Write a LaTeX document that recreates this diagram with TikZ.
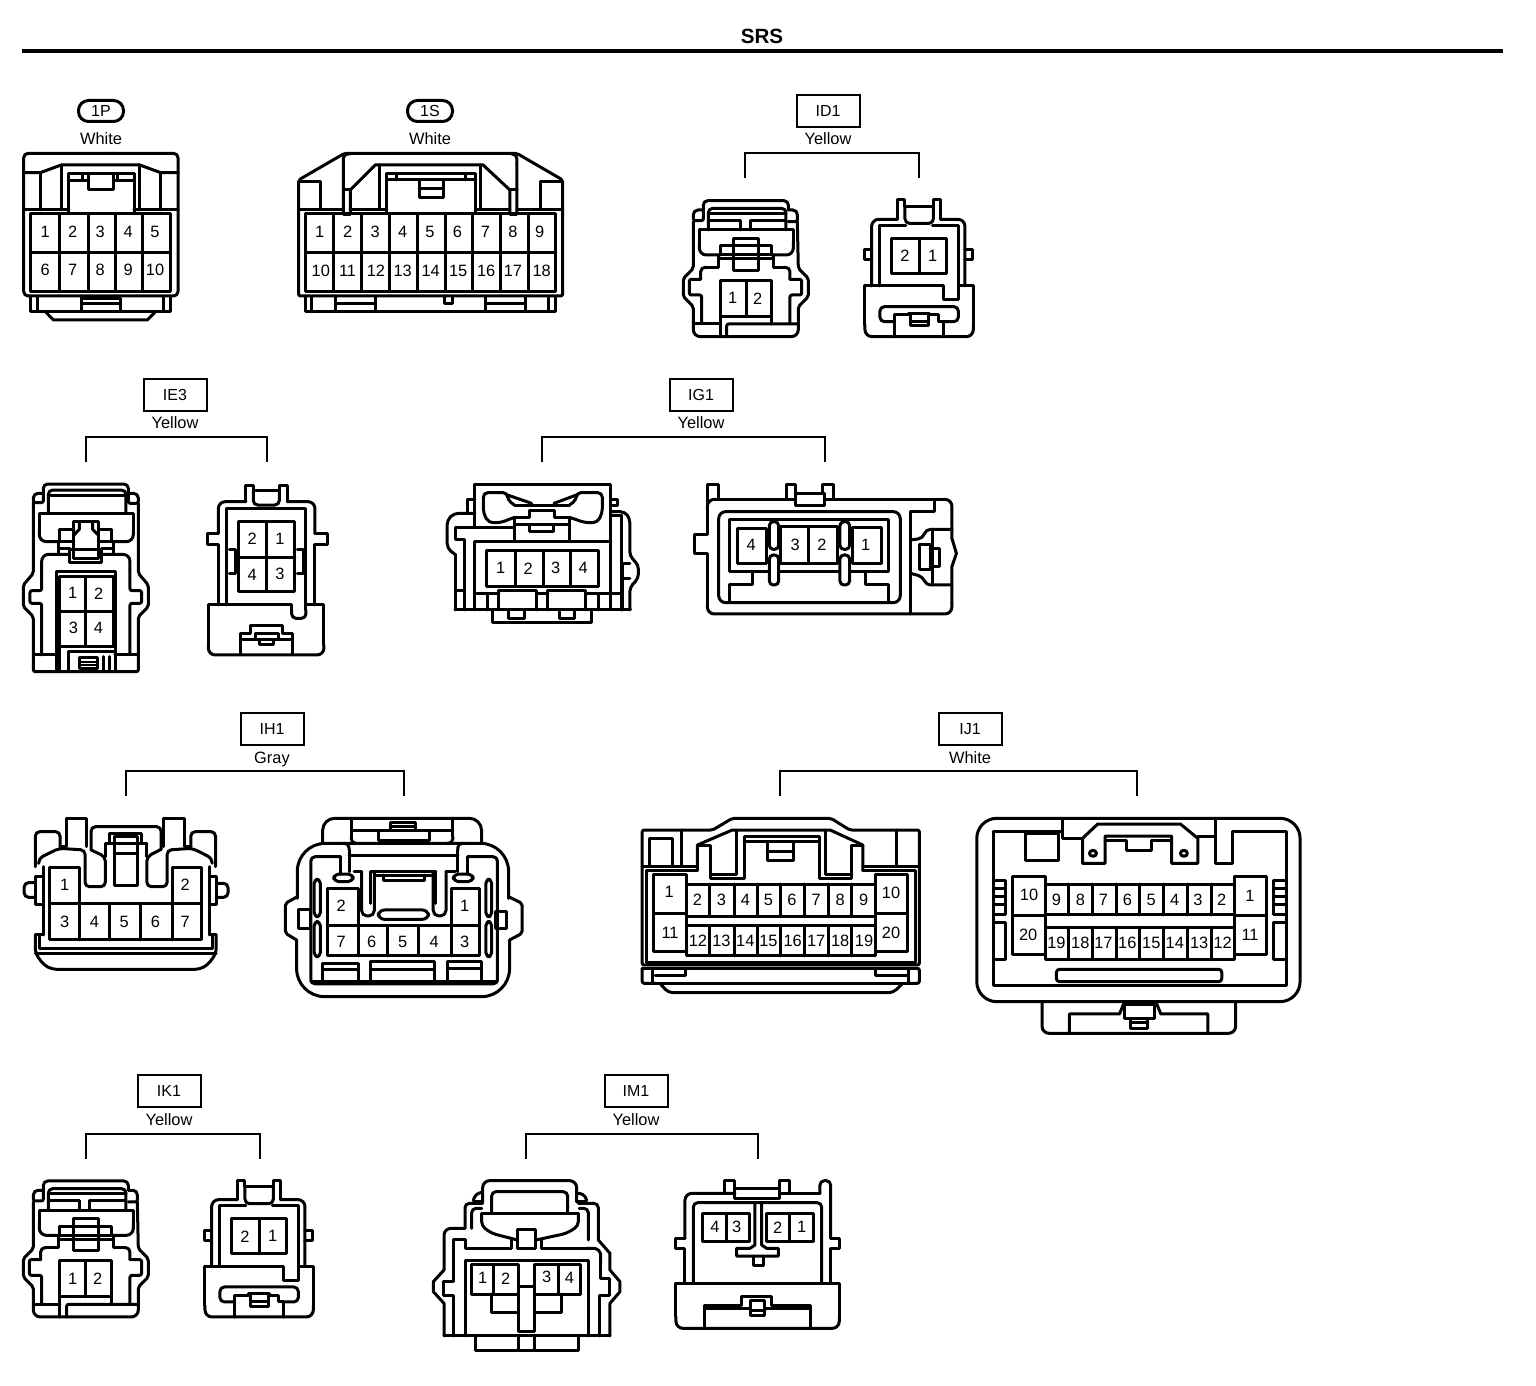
\documentclass[tikz,border=0pt]{standalone}
\usepackage{fontspec}
\setmainfont{Liberation Sans}
\newcount\pinctr
\newcommand\pn[3]{\global\advance\pinctr by 1 \node[pinlab] (pin\the\pinctr) at (#1,#2) {#3};}
\tikzset{
  wire/.style={line width=1.5pt,line join=round,line cap=round},
  rc/.style={rounded corners=3.5pt},
  rs/.style={rounded corners=2.2pt},
  rt/.style={rounded corners=1pt},
  pinlab/.style={inner sep=0pt,font=\fontsize{8.2}{9}\selectfont},
  colr/.style={inner sep=0pt,text height=6pt,text depth=0pt,font=\fontsize{8.2}{9}\selectfont},
  idbox/.style={draw,line width=1pt,minimum width=31.5pt,minimum height=16pt,inner sep=0pt,font=\fontsize{8}{9}\selectfont},
  idpill/.style={draw,line width=1.5pt,rounded corners=5pt,minimum width=22.5pt,minimum height=10.5pt,inner sep=0pt,font=\fontsize{8}{9}\selectfont},
  brk/.style={line width=1.2pt},
  zm/.style args={#1/#2/#3/#4}{shift={(#1,#2)},xscale=#3,yscale=#4,wire}
}
\newcommand\partA{%
\draw[rs] (130,90)--(130,62)--(385,62)--(385,90);
\draw[rt] (130,90)--(108,90)--(100,98)--(100,122)--(130,122)--(130,90);
\draw[rt] (385,90)--(405,90)--(412,98)--(412,125)--(385,125);
\draw[rt] (100,125)--(100,265)--(70,295)--(70,350)--(100,380)--(100,440);
\draw[rc] (100,440)--(100,470)--(415,470)--(415,440);
\draw[rt] (415,440)--(415,380)--(445,350)--(445,295)--(415,265)--(412,125);
\draw[rs] (145,150)--(145,85)--(378,85)--(378,150);
\draw (145,100)--(378,100);
\draw (145,122)--(240,122)--(240,150) (270,150)--(270,122)--(378,122);
\draw (118,185)--(118,150)--(400,150)--(400,185);
\draw[rc] (180,225)--(118,225)--(118,185);
\draw[rc] (335,225)--(400,225)--(400,185);
\draw (220,175) rectangle (295,272);
\draw (180,225)--(180,198)--(335,198)--(335,225)--(180,225);
\draw (175,237)--(340,237);
\draw (175,225)--(175,262)--(140,262);
\draw[rs] (140,262)--(122,262)--(122,298);
\draw[rt] (122,298)--(88,298)--(88,345)--(125,345)--(125,432);
\draw (340,225)--(340,262)--(372,262);
\draw[rs] (372,262)--(390,262)--(390,298);
\draw[rt] (390,298)--(425,298)--(425,345)--(390,345)--(390,432);
\draw (180,302) rectangle (335,410);
\draw (258,302)--(258,410);
\draw (180,410)--(180,470) (104,432)--(180,432) (335,410)--(335,432);
\draw[rt] (200,470)--(200,432)--(413,432);
\pn{218}{355}{1}\pn{293}{355}{2}}
\newcommand\partB{%
\draw (712,118)--(712,60)--(735,60)--(735,80)--(820,80)--(820,60)--(842,60)--(842,118);
\draw[rs] (735,80)--(735,130)--(820,130)--(820,80);
\draw[rc] (635,318)--(635,118)--(712,118) (842,118)--(915,118)--(915,318);
\draw (658,318)--(658,137)--(738,137) (817,137)--(895,137)--(895,360)--(850,360)--(850,318)--(615,318)--(615,435);
\draw[rc] (615,435)--(615,470)--(940,470)--(940,435);
\draw (940,435)--(940,318)--(895,318);
\draw (635,210)--(615,210)--(615,240)--(635,240) (915,210)--(938,210)--(938,240)--(915,240);
\draw (695,175) rectangle (860,280);
\draw (778,175)--(778,280);
\draw[rs] (703,425)--(660,425)--(660,380)--(895,380)--(895,425)--(850,425);
\draw (703,470)--(703,405)--(745,405)--(745,400)--(810,400)--(810,405)--(835,405)--(835,425)--(850,425)--(850,470);
\draw (752,405)--(752,438)--(805,438)--(805,405) (752,425)--(805,425);
\pn{735}{228}{2}\pn{818}{228}{1}}
\begin{document}
\begin{tikzpicture}[x=0.5pt,y=-0.5pt]
\useasboundingbox (0,0) rectangle (1536,1386);
\fill[white] (0,0) rectangle (1536,1386);
% title
\node[inner sep=0pt,font=\bfseries\fontsize{10.3}{12}\selectfont] (title) at (762,36) {SRS};
\draw[line width=2pt] (22,51)--(1503,51);
% identifiers
\node[idpill] (id1p) at (101,111) {1P};
\node[colr] (c1p) at (101,139) {White};
\node[idpill] (id1s) at (430,111) {1S};
\node[colr] (c1s) at (430,139) {White};
\node[idbox] (idd1) at (828,111) {ID1};
\node[colr] (cd1) at (828,139) {Yellow};
\node[idbox] (ide3) at (175,395) {IE3};
\node[colr] (ce3) at (175,422) {Yellow};
\node[idbox] (idg1) at (701,395) {IG1};
\node[colr] (cg1) at (701,422) {Yellow};
\node[idbox] (idh1) at (272,729) {IH1};
\node[colr] (ch1) at (272,757) {Gray};
\node[idbox] (idj1) at (970,729) {IJ1};
\node[colr] (cj1) at (970,757) {White};
\node[idbox] (idk1) at (169,1091) {IK1};
\node[colr] (ck1) at (169,1119) {Yellow};
\node[idbox] (idm1) at (636,1091) {IM1};
\node[colr] (cm1) at (636,1119) {Yellow};
% brackets
\draw[brk] (745,178)--(745,153)--(919,153)--(919,178);
\draw[brk] (86,462)--(86,437)--(267,437)--(267,462);
\draw[brk] (542,462)--(542,437)--(825,437)--(825,462);
\draw[brk] (126,796)--(126,771)--(404,771)--(404,796);
\draw[brk] (780,796)--(780,771)--(1137,771)--(1137,796);
\draw[brk] (86,1159)--(86,1134)--(260,1134)--(260,1159);
\draw[brk] (526,1159)--(526,1134)--(758,1134)--(758,1159);
% ---------- 1P, 1S
\begin{scope}[zm={0/80/0.3828/0.3333}]
\draw[rs] (62,648)--(62,220)--(465,220)--(465,648)--cycle;
\draw (62,278)--(105,278)--(160,255)--(365,255)--(420,278)--(465,278);
\draw (105,278)--(105,390) (160,255)--(160,390) (365,255)--(365,390) (420,278)--(420,390);
\draw (62,390)--(180,390) (350,390)--(465,390);
\draw (178,398)--(178,280)--(352,280)--(352,398);
\draw (178,302)--(232,302) (296,302)--(352,302) (215,282)--(215,302) (308,282)--(308,302);
\draw (232,282)--(232,328)--(296,328)--(296,282);
\draw (80,400) rectangle (445,635);
\foreach \x in {155,230,302,372} \draw (\x,400)--(\x,635);
\draw (80,518)--(445,518);
\foreach \x/\t in {118/1,190/2,262/3,335/4,405/5} {\pn{\x}{455}{\t}}
\foreach \x/\t in {118/6,190/7,262/8,335/9,405/10} {\pn{\x}{570}{\t}}
\draw (80,650)--(80,695)--(445,695)--(445,650) (98,650)--(98,695) (428,650)--(428,695);
\draw (213,650)--(213,695) (315,655)--(315,695) (213,672)--(315,672) (213,655)--(315,655);
\draw (120,697)--(140,720)--(385,720)--(405,697);
% 1S
\draw[rt] (780,648)--(780,300)--(900,220)--(1350,220)--(1470,300)--(1470,648)--cycle;
\draw (780,305)--(838,305)--(838,388) (1470,305)--(1412,305)--(1412,388);
\draw (780,388)--(897,388) (1470,388)--(1350,388);
\draw[rs] (915,222)--(897,222)--(897,250);
\draw[rs] (1335,222)--(1350,222)--(1350,250);
\draw (897,250)--(897,403)--(915,403)--(915,330)--(980,255)--(1262,255)--(1332,330)--(1332,403)--(1350,403)--(1350,250);
\draw (897,330)--(915,330) (1332,330)--(1350,330);
\draw (992,255)--(992,388) (1255,255)--(1255,388);
\draw (915,388)--(1010,388) (1243,388)--(1332,388);
\draw (1010,400)--(1010,280)--(1243,280)--(1243,400);
\draw (1010,300)--(1243,300) (1035,280)--(1035,300) (1215,280)--(1215,300);
\draw (1095,305)--(1095,352)--(1158,352)--(1158,305) (1095,325)--(1158,325);
\draw (798,400) rectangle (1452,635);
\foreach \x in {872,945,1018,1090,1163,1235,1308,1380} \draw (\x,400)--(\x,635);
\draw (798,518)--(1452,518);
\foreach \x/\t in {835/1,908/2,980/3,1052/4,1123/5,1195/6,1268/7,1340/8,1410/9} {\pn{\x}{455}{\t}}
\foreach \x/\t in {838/10,908/11,982/12,1052/13,1125/14,1197/15,1270/16,1340/17,1415/18} {\pn{\x}{572}{\t}}
\draw (798,650)--(798,695)--(1452,695)--(1452,650) (815,650)--(815,695) (1433,650)--(1433,695);
\draw (877,650)--(877,695) (980,650)--(980,695) (877,672)--(980,672);
\draw (1268,650)--(1268,695) (1372,650)--(1372,695) (1268,672)--(1372,672);
\draw (1160,650)--(1160,672)--(1182,672)--(1182,650);
\end{scope}
% ---------- ID1
\begin{scope}[zm={660/180/0.3333/0.3333}]
\partA \partB
\end{scope}
% ---------- IK1
\begin{scope}[zm={0/1160.3/0.3333/0.3333}]
\partA \partB
\end{scope}
% ---------- IE3
\begin{scope}[zm={0/470/0.3333/0.3333}]
\draw[rs] (130,70)--(130,42)--(385,42)--(385,70);
\draw[rt] (130,70)--(108,70)--(100,78)--(100,98)--(130,98)--(130,70);
\draw[rt] (385,70)--(407,70)--(415,78)--(415,100)--(385,100)--(385,70);
\draw[rs] (145,128)--(145,60)--(378,60)--(378,128);
\draw (145,75)--(378,75);
\draw (118,180)--(118,130)--(400,130)--(400,180);
\draw[rc] (180,215)--(118,215)--(118,180);
\draw[rc] (335,215)--(400,215)--(400,180);
\draw[rt] (100,98)--(100,310)--(70,345)--(70,410)--(100,440)--(100,605)--(415,605)--(415,440)--(445,410)--(445,345)--(415,310)--(415,100);
\draw (222,205)--(222,155)--(295,155)--(295,205);
\draw (180,178)--(222,178) (295,178)--(335,178) (180,178)--(180,215)--(222,215) (335,178)--(335,215)--(295,215);
\draw (238,155)--(238,178)--(222,195) (278,155)--(278,178)--(295,195);
\draw (175,215)--(175,253) (340,215)--(340,253) (175,235)--(210,235) (305,235)--(340,235);
\draw (210,240) rectangle (305,278);
\draw (222,205)--(222,265)--(295,265)--(295,205);
\draw[rc] (208,253)--(125,253)--(125,300);
\draw[rt] (125,300)--(125,362)--(90,362)--(90,400)--(125,400)--(125,555);
\draw[rc] (305,253)--(390,253)--(390,300);
\draw[rt] (390,300)--(390,362)--(425,362)--(425,400)--(390,400)--(390,555);
\draw (170,600)--(170,305)--(348,305)--(348,600);
\draw (180,320) rectangle (340,530);
\draw (258,320)--(258,530) (180,425)--(340,425);
\pn{218}{370}{1}\pn{296}{370}{2}\pn{220}{475}{3}\pn{295}{475}{4}
\draw (105,555)--(170,555) (345,555)--(410,555);
\draw (180,530)--(180,600) (205,600)--(205,545)--(340,545);
\draw (238,562) rectangle (292,595);
\draw[line width=1pt] (238,575)--(292,575) (238,585)--(292,585);
\draw (310,560)--(310,600) (330,560)--(330,600);
% right
\draw (738,95)--(738,45)--(760,45)--(760,60)--(838,60)--(838,45)--(862,45)--(862,95);
\draw[rs] (760,60)--(760,105)--(838,105)--(838,60);
\draw[rc] (655,190)--(655,95)--(738,95) (862,95)--(945,95)--(945,190);
\draw (655,190)--(622,190)--(622,225)--(655,225)--(655,405);
\draw (945,190)--(982,190)--(982,225)--(945,225)--(945,405);
\draw (680,405)--(680,115)--(918,115)--(918,420);
\draw[rs] (918,420)--(918,445)--(875,445)--(875,420);
\draw (875,420)--(875,405)--(625,405)--(625,525);
\draw[rc] (625,525)--(625,555)--(972,555)--(972,525);
\draw (972,525)--(972,405)--(918,405);
\draw (715,155) rectangle (885,365);
\draw (800,155)--(800,365) (715,262)--(885,262);
\pn{757}{207}{2}\pn{840}{207}{1}\pn{757}{315}{4}\pn{840}{312}{3}
\draw (688,240)--(708,240)--(708,310)--(688,310) (892,240)--(912,240)--(912,310)--(892,310);
\draw (722,552)--(722,490)--(752,490)--(752,468)--(848,468)--(848,490)--(878,490)--(878,552);
\draw (722,510)--(768,510)--(768,490)--(835,490)--(835,510)--(878,510) (768,510)--(835,510);
\draw (780,510)--(780,525)--(820,525)--(820,510);
\end{scope}
% ---------- IG1
\begin{scope}[zm={430/470/0.3445/0.3333}]
\draw (130,172)--(130,42)--(525,42)--(525,415);
\draw[rs] (245,105)--(225,90)--(225,68)--(155,68)--(155,130)--(170,158)--(205,158)--(245,142);
\draw[rs] (405,105)--(425,90)--(425,68)--(500,68)--(500,130)--(485,158)--(450,158)--(405,142);
\draw (245,105)--(405,105);
\draw (225,75)--(295,100) (425,75)--(360,100);
\draw (245,215)--(245,142)--(290,142)--(290,120)--(360,120)--(360,142)--(405,142)--(405,215);
\draw (250,165)--(405,165) (290,165)--(290,185)--(358,185)--(358,165);
\draw (108,130)--(108,88)--(130,88);
\draw[rs] (130,130)--(70,130)--(50,150)--(50,235)--(75,255);
\draw (75,255)--(75,420) (75,172)--(245,172) (75,172)--(75,210)--(100,210)--(100,420);
\draw (130,215)--(525,215);
\draw (130,215)--(130,420);
\draw (525,88)--(545,88)--(545,105)--(525,105);
\draw[rs] (525,125)--(565,125)--(580,145)--(580,258)--(605,285)--(605,325)--(580,352)--(580,420);
\draw (555,135)--(555,420) (525,135)--(555,135);
\draw (560,280)--(580,280) (560,325)--(580,325) (560,280)--(560,420);
\draw (165,243) rectangle (490,350);
\foreach \x in {247,328,408} \draw (\x,243)--(\x,350);
\foreach \x/\t in {205/1,285/2,365/3,445/4} {\pn{\x}{295}{\t}}
\draw (72,420)--(582,420) (75,362)--(100,362) (135,370)--(200,370) (310,370)--(342,370) (452,370)--(555,370);
\draw (200,420)--(200,362)--(310,362)--(310,420) (342,420)--(342,362)--(452,362)--(452,420);
\draw (168,375)--(168,420) (490,375)--(490,420);
\draw (180,420)--(180,458)--(470,458)--(470,420);
\draw (228,425)--(228,445)--(275,445)--(275,425) (375,425)--(375,445)--(420,445)--(420,425);
% right
\draw (805,100)--(805,42)--(838,42)--(838,88);
\draw (1035,88)--(1035,42)--(1060,42)--(1060,70)--(1140,70)--(1140,42)--(1172,42)--(1172,88);
\draw (1060,70)--(1060,105)--(1145,105)--(1145,70);
\draw (1060,88)--(830,88);
\draw[rc] (830,88)--(805,88)--(805,120);
\draw (805,120)--(805,195)--(768,195)--(768,250)--(805,250)--(805,400);
\draw[rc] (805,400)--(805,432)--(1515,432)--(1515,400);
\draw (1515,400)--(1515,290)--(1528,250)--(1515,205)--(1515,120);
\draw[rc] (1515,120)--(1515,88)--(1490,88);
\draw (1490,88)--(1145,88);
\draw[rc] (838,125) rectangle (1365,398);
\draw (870,395)--(870,345)--(935,345)--(935,305)--(870,305)--(870,148)--(1330,148)--(1330,305)--(1265,305)--(1265,345)--(1330,345)--(1330,395);
\draw (935,305)--(985,305) (1012,305)--(1190,305) (1218,305)--(1265,305);
\draw (892,175) rectangle (978,280);
\draw (1018,170) rectangle (1182,280);
\draw (1100,170)--(1100,280);
\draw (1225,172) rectangle (1310,280);
\pn{932}{225}{4}\pn{1060}{225}{3}\pn{1138}{225}{2}\pn{1265}{225}{1}
\draw[rounded corners=2pt,fill=white] (985,155) rectangle (1012,238);
\draw[rounded corners=2pt,fill=white] (985,255) rectangle (1012,345);
\draw[rounded corners=2pt,fill=white] (1190,155) rectangle (1218,238);
\draw[rounded corners=2pt,fill=white] (1190,255) rectangle (1218,345);
\draw (1395,432)--(1395,125)--(1465,125)--(1465,95);
\draw[rs] (1395,210)--(1430,205)--(1440,178)--(1515,178);
\draw[rs] (1395,310)--(1430,320)--(1440,345)--(1515,345);
\draw (1460,178)--(1460,345);
\draw (1420,225) rectangle (1452,300);
\draw (1452,235)--(1478,235)--(1478,290)--(1452,290);
\end{scope}
% ---------- IH1
\begin{scope}[zm={10/800/0.338/0.3333}]
\draw[rs] (75,200)--(75,95)--(148,95)--(148,140);
\draw (148,140)--(168,140)--(168,55)--(225,55)--(225,140);
\draw (455,140)--(455,55)--(515,55)--(515,140)--(535,140);
\draw[rs] (535,140)--(535,95)--(608,95)--(608,200);
\draw[rs] (240,150)--(240,80)--(447,80)--(447,148);
\draw[rs] (85,190)--(85,175)--(145,145)--(222,150)--(222,260)--(282,260)--(282,170)--(240,150);
\draw[rs] (447,148)--(405,170)--(405,260)--(465,260)--(465,150)--(540,145)--(598,175)--(598,190);
\draw (282,130)--(405,130) (282,130)--(282,170) (405,130)--(405,170);
\draw (295,130)--(295,100)--(390,100)--(390,130);
\draw (308,110) rectangle (378,255);
\draw (308,160)--(378,160);
\draw (118,202) rectangle (207,312);
\draw (482,202) rectangle (568,312);
\draw (118,312) rectangle (568,420);
\foreach \x in {207,295,385,480} \draw (\x,312)--(\x,420);
\pn{162}{255}{1}\pn{518}{255}{2}
\foreach \x/\t in {162/3,250/4,338/5,430/6,518/7} {\pn{\x}{365}{\t}}
\draw (98,230)--(75,230)--(75,315)--(98,315)--(98,230);
\draw[rs] (75,248)--(42,248)--(42,292)--(75,292);
\draw (590,230)--(610,230)--(610,315)--(590,315)--(590,230);
\draw[rs] (610,250)--(645,250)--(645,292)--(610,292);
\draw (98,200)--(98,230) (590,200)--(590,230) (98,315)--(98,405) (590,315)--(590,405);
\draw[rs] (75,405)--(75,460)--(100,495)--(125,508)--(560,508)--(585,495)--(610,460)--(610,405);
\draw (75,405)--(98,405) (590,405)--(610,405);
\draw (88,405)--(88,445)--(600,445)--(600,405) (75,460)--(610,460);
% right
\draw[rounded corners=6pt] (925,130)--(925,55)--(1395,55)--(1395,130);
\draw (1010,55)--(1010,110);
\draw[rs] (1010,110)--(1010,130)--(1030,130);
\draw (1310,55)--(1310,110);
\draw[rs] (1310,110)--(1310,130)--(1290,130);
\draw (1010,90)--(1310,90);
\draw (1125,68) rectangle (1200,90);
\draw (1125,78)--(1200,78);
\draw (1090,95)--(1090,122)--(1240,122)--(1240,95);
\draw[rounded corners=14pt] (850,295)--(850,130)--(1475,130)--(1475,295);
\draw[rt] (850,290)--(815,310)--(815,400)--(848,420);
\draw[rt] (1475,290)--(1515,310)--(1515,400)--(1478,420);
\draw[rounded corners=14pt] (848,420)--(848,590)--(1478,590)--(1478,420);
\draw[rs] (978,170)--(890,170)--(890,552)--(1442,552)--(1442,170)--(1355,170);
\draw (1003,215)--(1003,150) (1325,215)--(1325,150);
\draw[rs] (1003,150)--(1003,130)--(985,130) (1325,150)--(1325,130)--(1345,130);
\draw (1003,165)--(1325,165);
\draw (978,170)--(978,222) (1355,170)--(1355,222);
\draw[rounded corners=2.5pt] (958,222) rectangle (1015,245);
\draw[rounded corners=2.5pt] (1312,222) rectangle (1370,245);
\draw[rounded corners=2pt] (900,238) rectangle (918,350);
\draw[rounded corners=2pt] (900,365) rectangle (918,470);
\draw[rounded corners=2pt] (1408,238) rectangle (1425,350);
\draw[rounded corners=2pt] (1408,365) rectangle (1425,470);
\draw (855,328) rectangle (890,385);
\draw (1435,335) rectangle (1470,385);
\draw (940,265) rectangle (1030,378);
\draw (1305,265) rectangle (1388,378);
\draw (940,378) rectangle (1388,468);
\foreach \x in {1030,1118,1210,1305} \draw (\x,378)--(\x,468);
\pn{980}{318}{2}\pn{1345}{318}{1}
\foreach \x/\t in {980/7,1070/6,1162/5,1255/4,1345/3} {\pn{\x}{425}{\t}}
\draw (1018,215)--(1040,215) (1068,215)--(1260,215) (1290,215)--(1318,215);
\draw[rounded corners=2.8pt] (1040,215)--(1040,348)--(1078,348)--(1078,215);
\draw[rounded corners=2.8pt] (1252,215)--(1252,348)--(1290,348)--(1290,215);
\draw (1068,215)--(1068,310) (1260,215)--(1260,310);
\draw (1105,225)--(1105,240)--(1225,240)--(1225,225) (1078,225)--(1252,225);
\draw[rounded corners=3pt,fill=white] (1090,330) rectangle (1238,358);
\draw (925,545)--(925,490)--(1030,490)--(1030,545) (925,508)--(1030,508);
\draw (1068,485) rectangle (1255,545);
\draw (1068,510)--(1255,510);
\draw (1295,545)--(1295,485)--(1395,485)--(1395,545) (1295,505)--(1395,505);
\draw (890,545)--(1442,545);
\end{scope}
% ---------- IJ1
\begin{scope}[zm={630/800/0.4351/0.3333}]
\draw[rt] (28,495)--(28,90)--(190,90)--(235,55)--(462,55)--(505,90)--(665,90)--(665,495)--cycle;
\draw (38,212)--(38,488)--(655,488)--(655,212)--(535,212);
\draw (38,212)--(155,212);
\draw (155,212)--(155,135)--(235,90)--(460,90)--(535,135)--(535,212);
\draw (155,135)--(185,135)--(185,235)--(262,235)--(262,108)--(435,108)--(435,235)--(510,235)--(510,135)--(535,135);
\draw (185,222)--(245,222)--(245,92) (450,92)--(450,222)--(510,222);
\draw (262,124)--(435,124);
\draw (315,125)--(315,180)--(375,180)--(375,125) (315,155)--(375,155);
\draw (45,198)--(45,115)--(98,115)--(98,198) (118,90)--(118,198) (612,90)--(612,198);
\draw (28,198)--(155,198) (535,198)--(665,198);
\draw (55,222) rectangle (130,455);
\draw (55,342)--(130,342);
\draw (565,222) rectangle (638,455);
\draw (565,342)--(638,342);
\pn{90}{275}{1}\pn{92}{398}{11}\pn{600}{278}{10}\pn{600}{398}{20}
\draw (130,252) rectangle (565,350);
\draw (130,378) rectangle (565,468);
\foreach \x in {183,240,293,347,402,456,510} {\draw (\x,252)--(\x,350); \draw (\x,378)--(\x,468);}
\foreach \x/\t in {155/2,210/3,265/4,318/5,372/6,428/7,483/8,537/9} {\pn{\x}{300}{\t}}
\foreach \x/\t in {156/12,210/13,265/14,318/15,374/16,428/17,483/18,538/19} {\pn{\x}{422}{\t}}
\draw[rt] (28,505)--(665,505)--(665,550)--(635,550);
\draw[rt] (28,505)--(28,550)--(60,550);
\draw (52,505)--(52,550) (640,505)--(640,550) (52,550)--(640,550);
\draw (58,528)--(128,528)--(128,508) (565,508)--(565,528)--(638,528);
\draw[rs] (70,552)--(88,578)--(605,578)--(625,552);
% right
\draw[rounded corners=10pt] (797,55) rectangle (1540,605);
\draw (835,95)--(835,558)--(1508,558)--(1508,95)--(1385,95)--(1385,190)--(1345,190)--(1345,55);
\draw (835,95)--(993,95) (993,55)--(993,115)--(1040,115);
\draw (908,100) rectangle (985,180);
\draw (1040,190)--(1040,115)--(1075,72)--(1265,72)--(1305,115)--(1305,190)--(1245,190)--(1245,108)--(1092,108)--(1092,190)--cycle;
\draw (1305,108)--(1345,108);
\draw (1092,122)--(1142,122)--(1142,150)--(1198,150)--(1198,122)--(1245,122);
\draw (1064,160) ellipse [x radius=8, y radius=9];
\draw (1273,160) ellipse [x radius=8, y radius=9];
\draw (880,230) rectangle (955,465);
\draw (880,348)--(955,348);
\draw (1390,230) rectangle (1462,465);
\draw (1390,348)--(1462,348);
\pn{917}{285}{10}\pn{915}{405}{20}\pn{1425}{288}{1}\pn{1425}{405}{11}
\draw (955,252) rectangle (1390,345);
\draw (955,382) rectangle (1390,478);
\foreach \x in {1008,1062,1117,1172,1226,1281,1337} {\draw (\x,252)--(\x,345); \draw (\x,382)--(\x,478);}
\foreach \x/\t in {980/9,1035/8,1088/7,1143/6,1198/5,1252/4,1305/3,1360/2} {\pn{\x}{300}{\t}}
\foreach \x/\t in {980/19,1035/18,1088/17,1143/16,1198/15,1252/14,1308/13,1362/12} {\pn{\x}{428}{\t}}
\draw (835,240)--(862,240)--(862,345)--(835,345) (835,265)--(862,265) (835,290)--(862,290) (835,315)--(862,315);
\draw (835,368)--(862,368)--(862,478)--(835,478);
\draw (1508,240)--(1480,240)--(1480,345)--(1508,345) (1480,265)--(1508,265) (1480,290)--(1508,290) (1480,315)--(1508,315);
\draw (1508,368)--(1480,368)--(1480,478)--(1508,478);
\draw[rounded corners=1.5pt] (980,508) rectangle (1360,545);
\draw[rc] (947,605)--(947,700)--(1392,700)--(1392,605);
\draw (1010,698)--(1010,642)--(1125,642)--(1135,610);
\draw (1210,610)--(1220,642)--(1328,642)--(1328,698);
\draw (1137,615) rectangle (1205,655);
\draw (1150,655) rectangle (1190,685);
\draw (1150,668)--(1190,668);
\end{scope}
% ---------- IM1
\begin{scope}[zm={420/1170/0.3333/0.3333}]
\draw[rc] (188,95)--(188,32)--(470,32)--(470,95);
\draw[rt] (188,95)--(160,95)--(160,85)--(175,68)--(188,68);
\draw[rt] (470,70)--(485,70)--(500,85)--(500,95)--(470,95);
\draw[rs] (215,128)--(215,65)--(443,65)--(443,128);
\draw[rs] (292,210)--(215,190)--(185,168)--(185,130);
\draw (185,130)--(475,130);
\draw[rs] (348,210)--(440,190)--(475,168)--(475,130);
\draw (292,178) rectangle (348,235);
\draw[rs] (135,175)--(135,100)--(188,100);
\draw[rs] (155,175)--(155,115)--(185,115);
\draw[rs] (535,210)--(535,100)--(475,100);
\draw[rs] (505,210)--(505,115)--(478,115);
\draw[rc] (135,175)--(72,175)--(72,300);
\draw (72,300)--(40,335)--(40,365)--(72,400)--(72,498);
\draw (535,210)--(570,250)--(570,300)--(600,335)--(600,365)--(570,400)--(570,498);
\draw (275,210)--(275,235)--(135,235)--(135,208)--(100,208)--(100,335)--(70,335)--(70,375)--(100,375)--(100,498);
\draw (365,210)--(365,235)--(500,235);
\draw[rc] (500,235)--(542,235)--(542,280);
\draw (542,280)--(542,325)--(570,325)--(570,375)--(540,375)--(540,498);
\draw (135,498)--(135,270)--(505,270)--(505,498);
\draw (72,498)--(570,498);
\draw (155,283) rectangle (295,372);
\draw (222,283)--(222,372);
\draw (345,283) rectangle (483,372);
\draw (417,283)--(417,372);
\pn{188}{325}{1}\pn{257}{325}{2}\pn{380}{322}{3}\pn{448}{325}{4}
\draw (215,372)--(215,428)--(295,428) (425,372)--(425,428)--(345,428);
\draw (295,350) rectangle (345,485);
\draw (165,498)--(165,542)--(475,542)--(475,498) (295,498)--(295,542) (345,498)--(345,542);
% right
\draw (915,70)--(915,32)--(945,32)--(945,55)--(1080,55)--(1080,32)--(1110,32)--(1110,70);
\draw (945,55)--(945,85)--(1080,85)--(1080,55);
\draw[rc] (945,70)--(795,70)--(795,205);
\draw (795,205)--(768,205)--(768,235)--(795,235)--(795,340);
\draw (1080,70)--(1200,70);
\draw[rs] (1200,70)--(1200,32)--(1232,32)--(1232,205);
\draw (1232,205)--(1258,205)--(1258,235)--(1232,235)--(1232,340);
\draw[rs] (820,340)--(820,98)--(1205,98)--(1205,340);
\draw (848,130) rectangle (990,215);
\draw (920,130)--(920,215);
\draw (1040,130) rectangle (1180,215);
\draw (1110,130)--(1110,215);
\pn{885}{172}{4}\pn{950}{170}{3}\pn{1073}{172}{2}\pn{1145}{172}{1}
\draw (1005,100)--(1005,225)--(990,235)--(950,235)--(950,258)--(1075,258)--(1075,235)--(1040,235)--(1025,225)--(1025,100);
\draw (1000,258)--(1000,285)--(1030,285)--(1030,258);
\draw (768,440)--(768,340)--(1258,340)--(1258,440);
\draw[rc] (768,440)--(768,475)--(1258,475)--(1258,440);
\draw (855,473)--(855,405)--(965,405)--(965,378)--(1055,378)--(1055,405)--(1172,405)--(1172,473);
\draw (855,415)--(992,415) (1035,415)--(1172,415);
\draw (992,390) rectangle (1035,435);
\draw (992,422)--(1035,422);
\end{scope}
\end{tikzpicture}
\end{document}
